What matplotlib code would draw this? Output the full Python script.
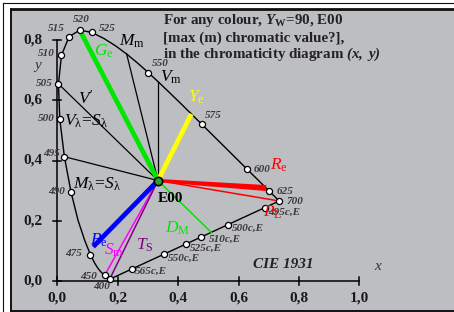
import numpy as np
import matplotlib
matplotlib.use("Agg")
import matplotlib.pyplot as plt
from matplotlib.patches import Rectangle, Polygon
from matplotlib.lines import Line2D

plt.rcParams['font.family'] = ['Liberation Serif', 'DejaVu Serif']
plt.rcParams['mathtext.fontset'] = 'custom'
plt.rcParams['mathtext.rm'] = 'Liberation Serif'
plt.rcParams['mathtext.it'] = 'Liberation Serif:italic'
plt.rcParams['mathtext.bf'] = 'Liberation Serif:bold'
plt.rcParams['mathtext.bfit'] = 'Liberation Serif:bold:italic'

# ---------------- data ----------------
# CIE 1931 spectral locus (wavelength nm, x, y)
wl = [400, 405, 410, 415, 420, 425, 430, 435, 440, 445, 450, 455, 460, 465, 470,
      475, 480, 485, 490, 495, 500, 505, 510, 515, 520, 525, 530, 535, 540, 545,
      550, 555, 560, 565, 570, 575, 580, 585, 590, 595, 600, 605, 610, 615, 620,
      625, 630, 635, 640, 645, 650, 655, 660, 665, 670, 675, 680, 685, 690, 695, 700]
lx = [0.17334, 0.17302, 0.17258, 0.17209, 0.17141, 0.17030, 0.16888, 0.16690, 0.16441,
      0.16110, 0.15664, 0.15099, 0.14396, 0.13550, 0.12412, 0.10959, 0.09129, 0.06871,
      0.04539, 0.02346, 0.00817, 0.00386, 0.01387, 0.03885, 0.07430, 0.11416, 0.15472,
      0.19288, 0.22962, 0.26578, 0.30160, 0.33736, 0.37310, 0.40874, 0.44406, 0.47877,
      0.51249, 0.54479, 0.57515, 0.60293, 0.62704, 0.64823, 0.66576, 0.68008, 0.69150,
      0.70061, 0.70792, 0.71403, 0.71903, 0.72303, 0.72599, 0.72827, 0.72997, 0.73109,
      0.73199, 0.73272, 0.73342, 0.73405, 0.73440, 0.73459, 0.73469]
ly = [0.00480, 0.00478, 0.00480, 0.00483, 0.00510, 0.00579, 0.00690, 0.00856, 0.01086,
      0.01379, 0.01770, 0.02274, 0.02970, 0.03988, 0.05780, 0.08684, 0.13270, 0.20072,
      0.29498, 0.41270, 0.53842, 0.65482, 0.75019, 0.81202, 0.83380, 0.82621, 0.80586,
      0.78163, 0.75433, 0.72432, 0.69231, 0.65885, 0.62445, 0.58961, 0.55471, 0.52020,
      0.48659, 0.45443, 0.42423, 0.39650, 0.37249, 0.35139, 0.33401, 0.31975, 0.30834,
      0.29930, 0.29203, 0.28593, 0.28093, 0.27695, 0.27401, 0.27173, 0.27003, 0.26891,
      0.26801, 0.26728, 0.26658, 0.26595, 0.26560, 0.26541, 0.26531]

white_E = (0.3333, 0.3333)
marked_wl = [400, 450, 475, 490, 495, 500, 505, 510, 515, 520, 525, 550, 575, 600, 625, 700]
complement_wl = [495, 500, 510, 525, 550, 565]
complement_labels = ["495c,E", "500c,E", "510c,E", "525c,E", "550c,E", "565c,E"]
black_rays_wl = [505, 495, 540]          # lines from locus to E
green_e_wl, yellow_e_wl, red_e_wl = 520, 570, 620
s_m_wl, t_s_wl, p_l_wl = 450, 400, 700
d_m_complement_wl = 505
blue_e_end = (0.119, 0.113)
x_ticks = [0.0, 0.2, 0.4, 0.6, 0.8, 1.0]
y_ticks = [0.0, 0.2, 0.4, 0.6, 0.8]
x_ticklabels = ["0,0", "0,2", "0,4", "0,6", "0,8", "1,0"]
y_ticklabels = ["0,0", "0,2", "0,4", "0,6", "0,8"]

# ---------------- layout helpers ----------------
W, H = 454, 312
X0, SX = 57.3, 302.0
Y0, SY = 280.7, 300.5


def px(xp, yp):
    return ((xp - X0) / SX, (Y0 - yp) / SY)


def loc(w):
    i = wl.index(w)
    return np.array([lx[i], ly[i]])


def ff(xp, yp):
    return (xp / W, 1 - yp / H)


E = np.array(white_E)
P400, P700 = loc(400), loc(700)


def complement(w):
    p = loc(w)
    d = E - p
    a = P700 - P400
    M = np.array([[d[0], -a[0]], [d[1], -a[1]]])
    t, s = np.linalg.solve(M, P400 - E)
    return E + t * d


fig = plt.figure(figsize=(W / 100, H / 100), dpi=100)
fig.patch.set_facecolor('white')
ax = fig.add_axes([0, 0, 1, 1])
ax.axis('off')
ax.set_zorder(5)
ax.set_xlim(px(0, 0)[0], px(W, 0)[0])
ax.set_ylim(px(0, H)[1], px(0, 0)[1])

# frame / background
fig.patches.append(Rectangle(ff(12, 311), (W - 12) / W, (311 - 9.5) / H,
                             transform=fig.transFigure, facecolor='#bdbec2',
                             edgecolor='none', zorder=0))
for (xa, ya, xb, yb, lw) in [(3, 3, W, 3, 0.8), (3, 3, 3, H, 0.8),
                             (11, 8.5, W, 8.5, 2.0), (11, 8.5, 11, 311, 1.4),
                             (11, 311.2, W, 311.2, 1.4)]:
    (x1, y1), (x2, y2) = ff(xa, ya), ff(xb, yb)
    fig.lines.append(Line2D([x1, x2], [y1, y2], transform=fig.transFigure,
                            color='#111111', lw=lw, zorder=1))

# axes lines and ticks
ax.plot([0, 1.0], [0, 0], color='black', lw=1.1, zorder=2)
ax.plot([0, 0], [0, 0.8], color='black', lw=1.1, zorder=2)
for xt, lab in zip(x_ticks, x_ticklabels):
    ax.plot([xt, xt], [-4 / SY, 4 / SY], color='black', lw=1.1, zorder=2)
    ax.text(xt, px(0, 298)[1], lab, ha='center', va='center', fontsize=11,
            fontweight='bold', color='#1a1a1a')
for yt, lab in zip(y_ticks, y_ticklabels):
    ax.plot([-4 / SX, 4 / SX], [yt, yt], color='black', lw=1.1, zorder=2)
    ax.text(px(42, 0)[0], yt, lab, ha='right', va='center', fontsize=11,
            fontweight='bold', color='#1a1a1a')

# spectral locus and purple line
ax.plot(lx, ly, color='black', lw=1.0, zorder=3)
ax.plot([P400[0], P700[0]], [P400[1], P700[1]], color='black', lw=1.0, zorder=3)

# black rays
for w in black_rays_wl:
    p = loc(w)
    ax.plot([p[0], E[0]], [p[1], E[1]], color='black', lw=0.9, zorder=3)
# vertical line V_m (from E up to the locus)
seg_x = np.array(lx[28:33])
seg_y = np.array(ly[28:33])
yv = np.interp(E[0], seg_x, seg_y)
ax.plot([E[0], E[0]], [E[1], yv], color='black', lw=0.9, zorder=3)

# thin colored lines
for w, c in [(s_m_wl, '#ff00ff'), (t_s_wl, '#800080'), (p_l_wl, '#ff0000')]:
    p = loc(w)
    ax.plot([E[0], p[0]], [E[1], p[1]], color=c, lw=1.1, zorder=4)
dm = complement(d_m_complement_wl)
ax.plot([E[0], dm[0]], [E[1], dm[1]], color='#00e600', lw=1.1, zorder=4)

# thick colored lines
for p, c in [(loc(green_e_wl), '#00e600'), (loc(yellow_e_wl), '#ffff00'),
             (np.array(blue_e_end), '#0000ff')]:
    ax.plot([E[0], p[0]], [E[1], p[1]], color=c, lw=3.4, zorder=5,
            solid_capstyle='butt')
# red wedge
pr = loc(red_e_wl)
d = pr - E
n = np.array([-d[1], d[0]]) / np.hypot(*d)
w0, w1 = 1.6 / SX, 3.0 / SX
poly = [E + n * w0, pr + n * w1, pr - n * w1, E - n * w0]
ax.add_patch(Polygon(poly, closed=True, facecolor='#ff0000', edgecolor='none',
                     zorder=5))

# E marker
ax.plot([E[0]], [E[1]], marker='o', ms=6, mfc='#30a030', mec='black', mew=1.2,
        zorder=7)

# markers on locus
mk = np.array([loc(w) for w in marked_wl])
ax.plot(mk[:, 0], mk[:, 1], ls='none', marker='o', ms=4.4, mfc='white',
        mec='black', mew=0.9, zorder=6)
cm = np.array([complement(w) for w in complement_wl])
ax.plot(cm[:, 0], cm[:, 1], ls='none', marker='o', ms=4.4, mfc='white',
        mec='black', mew=0.9, zorder=6)

# wavelength labels
wl_lab_pos = {
    515: (65, 28.5, 'right'), 520: (81, 20, 'center'), 525: (99, 28.5, 'left'),
    510: (55, 54, 'right'), 505: (53, 83.5, 'right'), 500: (55, 118.5, 'right'),
    495: (60, 153.5, 'right'), 490: (65, 191.5, 'right'), 475: (82, 253.5, 'right'),
    450: (97, 276.5, 'right'), 400: (110, 286.5, 'right'), 550: (152, 63.5, 'left'),
    575: (205, 116, 'left'), 600: (254, 169, 'left'), 625: (277, 191, 'left'),
    700: (287, 201, 'left')}
lab_kw = dict(fontsize=8, fontweight='bold', fontstyle='italic', color='#3a3a3a',
              va='center', zorder=8)
for w in marked_wl:
    xp, yp, ha = wl_lab_pos[w]
    ax.text(*px(xp, yp), str(w), ha=ha, **lab_kw)
comp_lab_pos = [(268, 212.5), (232, 228), (209, 239), (190, 248), (168, 258.5),
                (135, 271.5)]
for lab, (xp, yp) in zip(complement_labels, comp_lab_pos):
    ax.text(*px(xp, yp), lab, ha='left', **lab_kw)

# symbol labels
sym = [
    (r"$M_\mathrm{m}$", (132, 41), 'black'),
    (r"$V_\mathrm{m}$", (171, 77), 'black'),
    (r"$G_\mathrm{e}$", (104, 51), '#00e600'),
    (r"$Y_\mathrm{e}$", (196, 97), '#ffff00'),
    (r"$V'$", (86, 99), 'black'),
    (r"$V_\mathrm{\lambda}\!=\!S_\mathrm{\lambda}$", (86, 121), 'black'),
    (r"$M_\mathrm{\lambda}\!=\!S_\mathrm{\lambda}$", (97, 184), 'black'),
    (r"$D_\mathrm{M}$", (178, 228), '#00e600'),
    (r"$T_\mathrm{S}$", (145, 245), '#800080'),
    (r"$B_\mathrm{e}$", (99, 240), '#0000ff'),
    (r"$S_\mathrm{m}$", (114, 250), '#ff00ff'),
    (r"$R_\mathrm{e}$", (279, 165), '#ff0000'),
    (r"$P_\mathrm{L}$", (273, 212), '#ff0000'),
]
for s, (xp, yp), c in sym:
    ax.text(*px(xp, yp), s, ha='center', va='center', fontsize=12.5, color=c,
            zorder=8)

ax.text(*px(170, 198), "E00", ha='center', va='center', fontsize=11,
        fontweight='bold', zorder=8)
ax.text(*px(37.5, 66), "y", ha='center', va='center', fontsize=11,
        fontstyle='italic', color='#333333')
ax.text(*px(378, 266), "x", ha='center', va='center', fontsize=11,
        fontstyle='italic', color='#333333')
ax.text(*px(283, 265), "CIE 1931", ha='center', va='center', fontsize=11,
        fontweight='bold', fontstyle='italic', color='#222222')

# title block
tkw = dict(ha='left', va='baseline', fontsize=10.8, fontweight='bold',
           color='#222222')
ax.text(*px(163, 24), r"For any colour, $\mathbfit{Y}_\mathbf{W}$=90, E00", **tkw)
ax.text(*px(163, 41.5), "[max (m) chromatic value?],", **tkw)
ax.text(*px(163, 57.5), r"in the chromaticity diagram $\mathbfit{(x,\ y)}$", **tkw)

fig.savefig("out.png", dpi=100, facecolor='white')
